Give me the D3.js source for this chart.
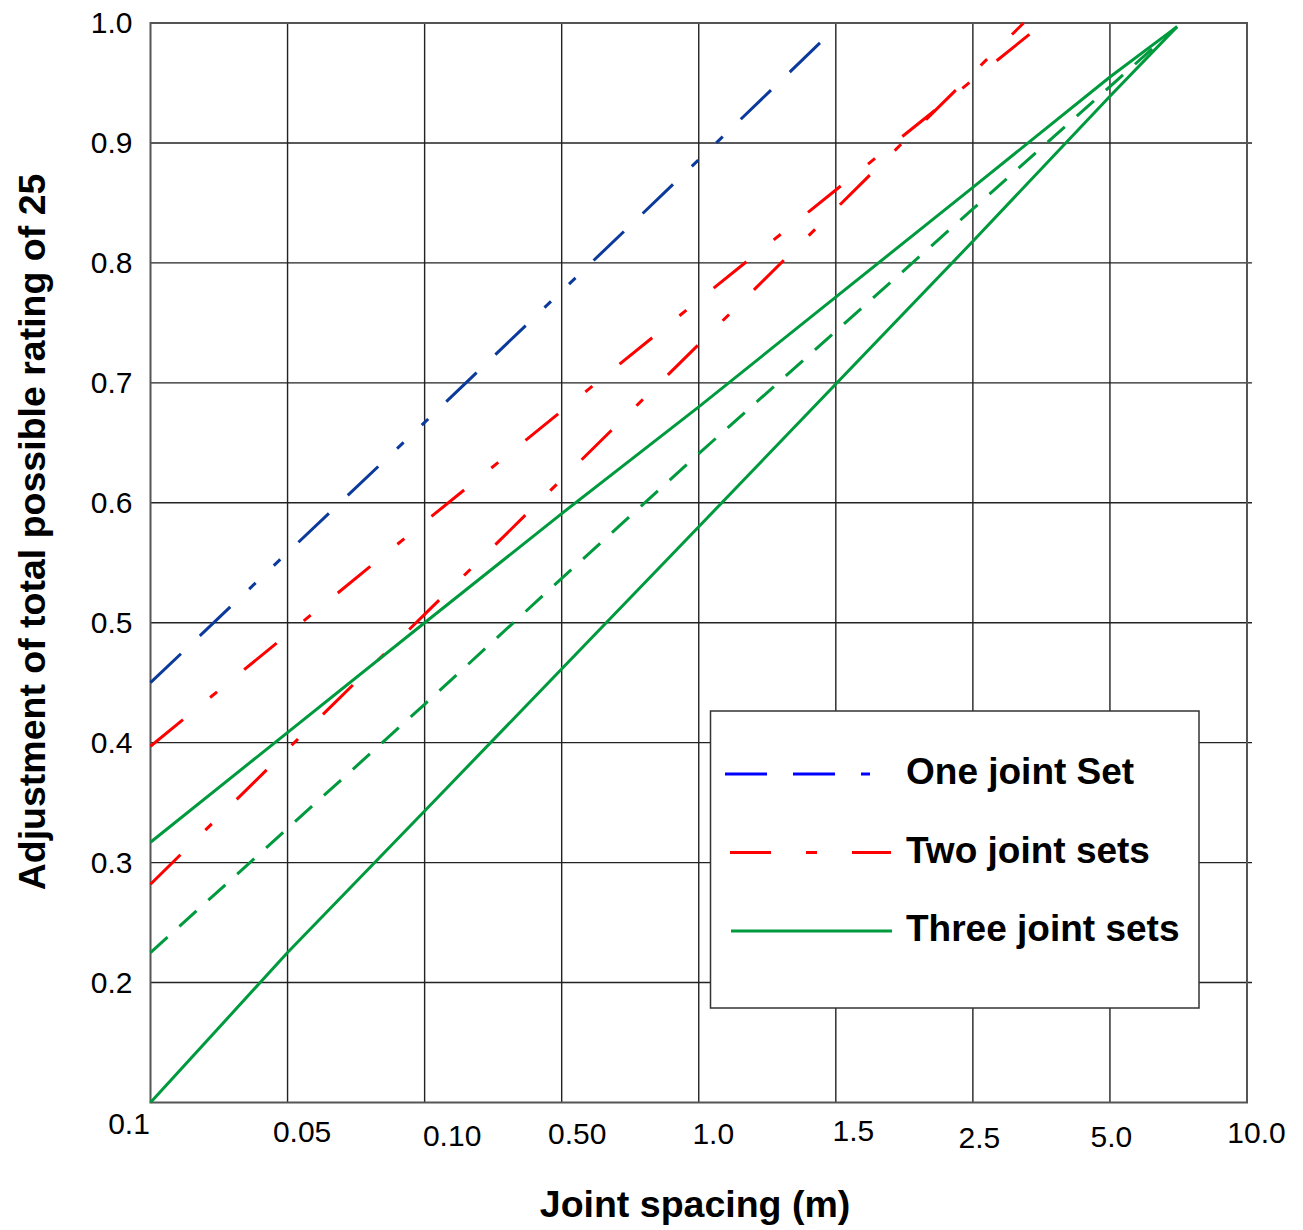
<!DOCTYPE html>
<html lang="en">
<head>
  <title>Joint spacing adjustment</title>
  <meta charset="utf-8">
  <script src="https://d3js.org/d3.v7.min.js"></script>
  <style>
    body { margin: 0; background: #fff; }
    text { font-family: "Liberation Sans", Arial, sans-serif; fill: #000; }
  </style>
</head>
<body>

<svg id="chart" width="1303" height="1230"></svg>

<script>
// x axis is a row of equally spaced labels, so every point is given by its slot index
var xLabels = ["0.1", "0.05", "0.10", "0.50", "1.0", "1.5", "2.5", "5.0", "10.0"];
var yTicks = [0.2, 0.3, 0.4, 0.5, 0.6, 0.7, 0.8, 0.9, 1.0];

var legendNames = ["One joint Set", "Two joint sets", "Three joint sets"];

// one joint set
var oneX = [0, 2, 4, 4.89];
var oneY = [0.45, 0.667, 0.886, 0.984];

// two joint sets (two red curves)
var twoUpperX = [0, 2, 4, 6.44];
var twoUpperY = [0.397, 0.584, 0.769, 0.993];
var twoLowerX = [0, 2, 4, 6.37];
var twoLowerY = [0.282, 0.507, 0.732, 1.0];

// three joint sets (three green curves)
var threeUpperX = [0, 2, 3, 4, 6, 7, 7.49];
var threeUpperY = [0.317, 0.5, 0.591, 0.68, 0.863, 0.955, 0.997];
var threeMidX = [0, 2, 3, 4, 6, 7, 7.49];
var threeMidY = [0.225, 0.432, 0.537, 0.641, 0.845, 0.947, 0.997];
var threeLowerX = [0, 1, 2, 4, 6, 7, 7.49];
var threeLowerY = [0.10, 0.225, 0.343, 0.58, 0.818, 0.939, 0.997];

// label nudges, the tick labels in the original sit a bit off their grid lines
var xLabelDx = [-22, 14, 27, 15, 14, 17, 6, 1, 9];
var xLabelDy = [20.5, 28.5, 32.5, 30.5, 30.5, 27.5, 34.5, 33.5, 29.5];

var BLUE = "#0b3a9c", RED = "#ff0000", GREEN = "#009a3e";
var dashOne = "42 26 42 26 9 25 9 25";
var dashTwo = "42 35 9 35";
var dashMid = "23 16";

function zip(xs, ys) {
    return xs.map(function(v, i) { return [v, ys[i]]; });
}

var curves = [
    {pts: zip(oneX, oneY), color: BLUE, dash: dashOne},
    {pts: zip(twoUpperX, twoUpperY), color: RED, dash: dashTwo},
    {pts: zip(twoLowerX, twoLowerY), color: RED, dash: dashTwo},
    {pts: zip(threeUpperX, threeUpperY), color: GREEN, dash: null},
    {pts: zip(threeMidX, threeMidY), color: GREEN, dash: dashMid},
    {pts: zip(threeLowerX, threeLowerY), color: GREEN, dash: null}
];

var svg = d3.select("#chart");
svg.append("rect").attr("width", 1303).attr("height", 1230).attr("fill", "#fff");

var x = d3.scaleLinear().domain([0, xLabels.length - 1]).range([150.5, 1247]);
var y = d3.scaleLinear().domain([0.1, 1.0]).range([1102.5, 23]);

// grid
svg.append("g").selectAll("line")
    .data(d3.range(1, xLabels.length - 1))
    .enter().append("line")
    .attr("x1", function(d) { return x(d); })
    .attr("x2", function(d) { return x(d); })
    .attr("y1", y(1.0))
    .attr("y2", y(0.1))
    .attr("stroke", "#222")
    .attr("stroke-width", 1.4);

svg.append("g").selectAll("line")
    .data(yTicks.slice(0, -1))
    .enter().append("line")
    .attr("x1", x(0))
    .attr("x2", x(8) + 5)
    .attr("y1", function(d) { return y(d); })
    .attr("y2", function(d) { return y(d); })
    .attr("stroke", "#222")
    .attr("stroke-width", 1.4);

// frame
svg.append("rect")
    .attr("x", x(0)).attr("y", y(1.0))
    .attr("width", x(8) - x(0)).attr("height", y(0.1) - y(1.0))
    .attr("fill", "none")
    .attr("stroke", "#555")
    .attr("stroke-width", 2);

// axes
var yAxis = d3.axisLeft(y).tickValues(yTicks).tickSize(0).tickPadding(18)
    .tickFormat(d3.format(".1f"));
var gy = svg.append("g").attr("transform", "translate(" + x(0) + ",0)").call(yAxis);
gy.select(".domain").remove();
gy.selectAll("text").attr("font-size", 30).attr("font-family", null);

var xAxis = d3.axisBottom(x).tickValues(d3.range(xLabels.length)).tickSize(0)
    .tickFormat(function(i) { return xLabels[i]; });
var gx = svg.append("g").attr("transform", "translate(0," + y(0.1) + ")").call(xAxis);
gx.select(".domain").remove();
gx.selectAll("text")
    .attr("font-size", 30)
    .attr("font-family", null)
    .attr("x", function(d, i) { return xLabelDx[i]; })
    .attr("y", function(d, i) { return xLabelDy[i]; })
    .attr("dy", "0.36em");

// curves
var line = d3.line()
    .x(function(d) { return x(d[0]); })
    .y(function(d) { return y(d[1]); });

svg.append("g").selectAll("path")
    .data(curves)
    .enter().append("path")
    .attr("d", function(d) { return line(d.pts); })
    .attr("fill", "none")
    .attr("stroke", function(d) { return d.color; })
    .attr("stroke-width", 3)
    .attr("stroke-dasharray", function(d) { return d.dash; });

// legend
var lg = svg.append("g");
lg.append("rect")
    .attr("x", 710.5).attr("y", 711)
    .attr("width", 488.5).attr("height", 297)
    .attr("fill", "#fff")
    .attr("stroke", "#333")
    .attr("stroke-width", 1.5);

var legendItems = [
    {name: legendNames[0], color: "#0000ff", dash: dashOne, x1: 725, x2: 870},
    {name: legendNames[1], color: RED, dash: "41 35 11 35", x1: 730, x2: 891},
    {name: legendNames[2], color: GREEN, dash: null, x1: 731, x2: 892}
];

legendItems.forEach(function(it, i) {
    var yy = 774 + i * 78.5;
    lg.append("line")
        .attr("x1", it.x1).attr("x2", it.x2)
        .attr("y1", yy).attr("y2", yy)
        .attr("stroke", it.color)
        .attr("stroke-width", 3.2)
        .attr("stroke-dasharray", it.dash);
    lg.append("text")
        .attr("x", 906)
        .attr("y", yy + 10)
        .attr("font-size", 37)
        .attr("font-weight", "bold")
        .text(it.name);
});

// axis titles
svg.append("text")
    .attr("x", 695)
    .attr("y", 1217)
    .attr("text-anchor", "middle")
    .attr("font-size", 37.5)
    .attr("font-weight", "bold")
    .text("Joint spacing (m)");

svg.append("text")
    .attr("transform", "translate(45,532) rotate(-90)")
    .attr("text-anchor", "middle")
    .attr("font-size", 37.5)
    .attr("font-weight", "bold")
    .text("Adjustment of total possible rating of 25");
</script>

</body>
</html>
